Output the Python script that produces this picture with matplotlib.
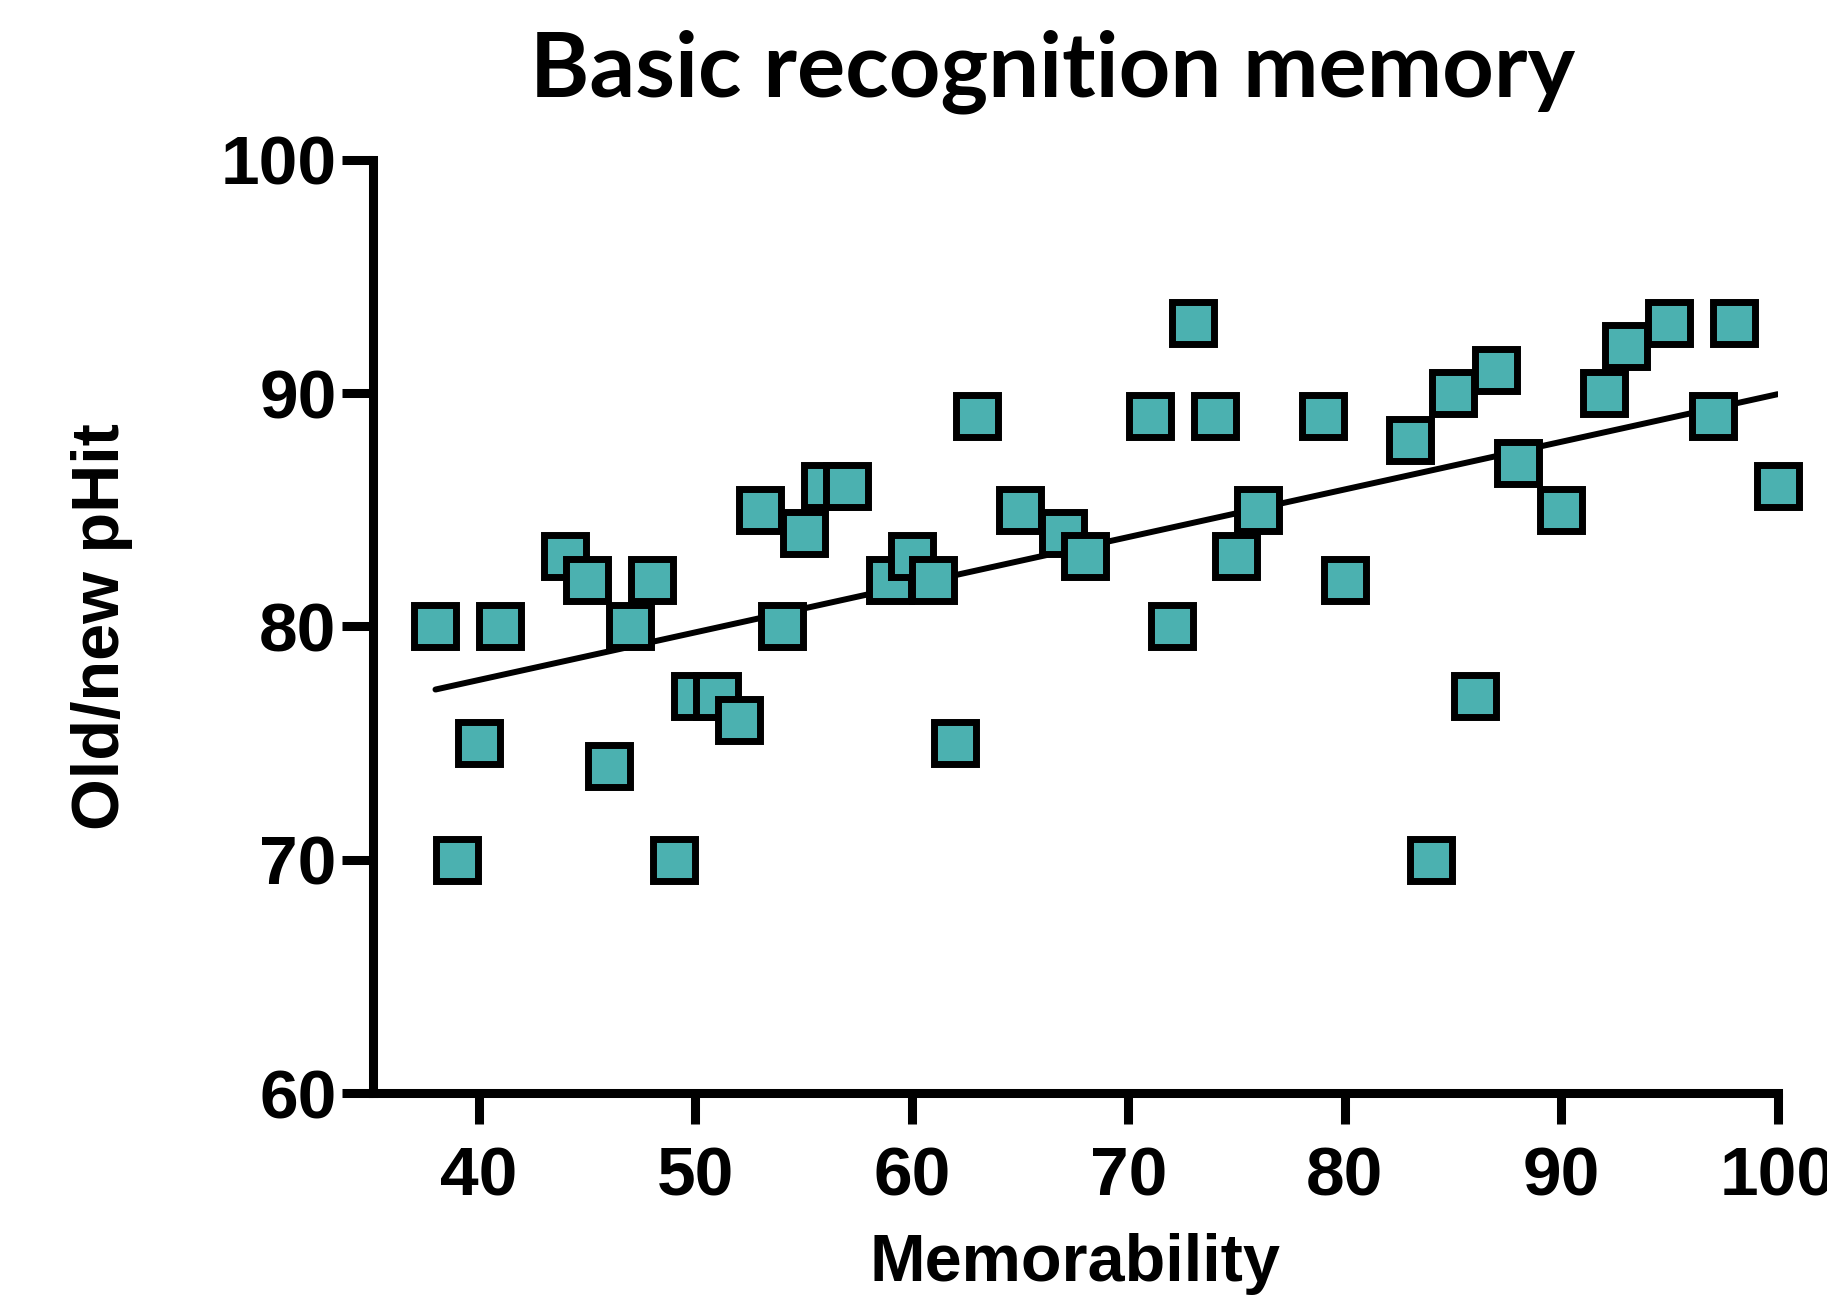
import numpy as np
import matplotlib
matplotlib.use("Agg")
import matplotlib.pyplot as plt

# data
memorability = [38, 39, 40, 41, 44, 45, 46, 47, 48, 49, 50, 51, 52, 53, 54, 55, 56, 57,
                59, 60, 61, 62, 63, 65, 67, 68, 71, 72, 73, 74, 75, 76, 79, 80, 83, 84,
                85, 86, 87, 88, 90, 92, 93, 95, 97, 98, 100]
phit = [80, 70, 75, 80, 83, 82, 74, 80, 82, 70, 77, 77, 76, 85, 80, 84, 86, 86,
        82, 83, 82, 75, 89, 85, 84, 83, 89, 80, 93, 89, 83, 85, 89, 82, 88, 70,
        90, 77, 91, 87, 85, 90, 92, 93, 89, 93, 86]

x = np.array(memorability)
y = np.array(phit)
slope, icpt = np.polyfit(x, y, 1)
xfit = np.array([x.min(), x.max()])

plt.rcParams['font.family'] = ['Liberation Sans', 'DejaVu Sans']
plt.rcParams['font.weight'] = 'bold'

fig = plt.figure(figsize=(18.27, 13.10), dpi=100)
ax = fig.add_axes([0.204, 0.1656, 0.769, 0.7124])

ax.plot(xfit, slope * xfit + icpt, color='black', lw=4.3, zorder=2, solid_capstyle='round')
ax.plot(x, y, ls='none', marker='s', ms=30, mfc='#4bb1b0', mec='black', mew=5,
        zorder=3, clip_on=False)

ax.set_xlim(35.1, 100)
ax.set_ylim(60, 100)
ax.set_xticks([40, 50, 60, 70, 80, 90, 100])
ax.set_yticks([60, 70, 80, 90, 100])

for s in ['top', 'right']:
    ax.spines[s].set_visible(False)
for s in ['left', 'bottom']:
    ax.spines[s].set_linewidth(6.5)
    ax.spines[s].set_capstyle('projecting')

ax.tick_params(axis='y', length=22, width=6.5, pad=4, labelsize=50)
ax.tick_params(axis='x', length=22, width=6.5, pad=16, labelsize=50)

ax.set_xlabel('Memorability', fontsize=48, fontweight='bold')
ax.set_ylabel('Old/new pHit', fontsize=48, fontweight='bold')
ax.xaxis.set_label_coords(0.5, -0.183)
ax.xaxis.label.set_va('center')
ax.yaxis.set_label_coords(-0.193, 0.5)
ax.yaxis.label.set_va('center')

fig.text(0.576, 0.945, 'Basic recognition memory', ha='center', va='center',
         fontsize=65, fontweight='bold', family=['Lato', 'DejaVu Sans'])

fig.savefig('out.png', dpi=100, facecolor='white')
